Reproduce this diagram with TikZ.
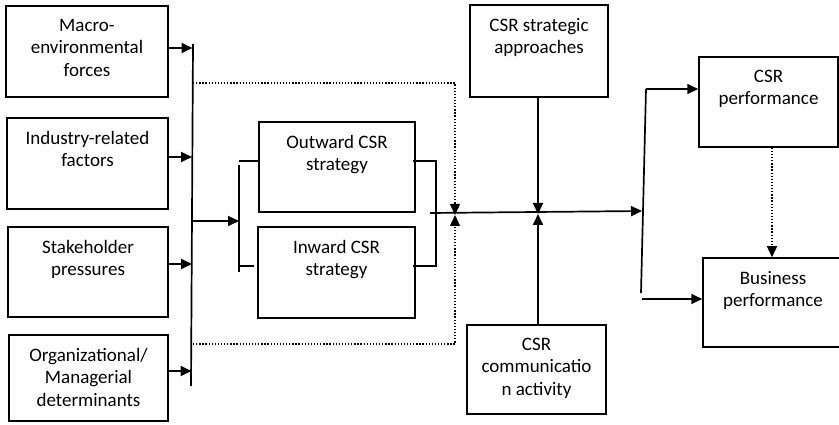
\documentclass[tikz,border=0pt]{standalone}
\usepackage{fontspec}
\setmainfont{Carlito}
\usetikzlibrary{arrows.meta,positioning,calc}

\begin{document}
\begin{tikzpicture}[x=1pt,y=-1pt,>={Triangle[length=11pt,width=10pt]},line width=1.7pt,
  box/.style={draw,line width=1.5pt,inner sep=0pt},
  txt/.style={anchor=north,yshift=-13pt,align=center,inner sep=0pt,font=\fontsize{19}{22.5}\selectfont},
  dots/.style={line width=1.3pt,dash pattern=on 1.3pt off 1.8pt}]
  \useasboundingbox (0,0) rectangle (839,425);
  % determinants
  \node[box,minimum width=162pt,minimum height=91pt,label={[txt]north:Macro-\\environmental\\forces}] (macro) at (87,51.5) {};
  \node[box,minimum width=161pt,minimum height=91pt,label={[txt]north:Industry-related\\factors}] (ind) at (87.5,163.5) {};
  \node[box,minimum width=160pt,minimum height=90pt,label={[txt]north:Stakeholder\\pressures}] (stake) at (88,272) {};
  \node[box,minimum width=159pt,minimum height=86pt,label={[txt]north:Organizational/\\Managerial\\determinants}] (org) at (88.5,378) {};
  % strategies
  \node[box,minimum width=156pt,minimum height=90pt,label={[txt]north:Outward CSR\\strategy}] (outw) at (337,167) {};
  \node[box,minimum width=157pt,minimum height=91pt,label={[txt]north:Inward CSR\\strategy}] (inw) at (336.5,272.5) {};
  % moderators
  \node[box,minimum width=138pt,minimum height=92pt,label={[txt]north:CSR strategic\\approaches}] (strat) at (539,51) {};
  \node[box,minimum width=139pt,minimum height=89pt,label={[txt]north:CSR\\communicatio\\n activity}] (comm) at (536.5,369.5) {};
  % outcomes
  \node[box,minimum width=139pt,minimum height=90pt,label={[txt]north:CSR\\performance}] (perf) at (768.5,102) {};
  \node[box,minimum width=140pt,minimum height=89pt,label={[txt]north:Business\\performance}] (bus) at (773,302.5) {};

  % left collector bar
  \coordinate (bartop) at (193,44);
  \coordinate (barbot) at (191,386);
  \coordinate (j1) at (192.5,48);
  \coordinate (j2) at (192,157);
  \coordinate (j3) at (192,264);
  \coordinate (j4) at (191.5,371);
  \draw (bartop) -- (barbot);
  \draw[->] (macro.east |- j1) -- (j1);
  \draw[->] (ind.east |- j2) -- (j2);
  \draw[->] (stake.east |- j3) -- (j3);
  \draw[->] (org.east |- j4) -- (j4);

  % bracket round the strategies
  \coordinate (jo) at (192,221);
  \coordinate (lb) at (239,221);
  \coordinate (lbt) at (239,161);
  \coordinate (lbb) at (239,266);
  \coordinate (rbt) at (436,161);
  \coordinate (rbb) at (436,266);
  \draw[->] (jo) -- (lb);
  \draw (lbt |- 0,165) -- (lbb |- 0,272);
  \draw (lbt) -- (outw.west |- lbt);
  \draw (lbb) -- ([xshift=-3pt]inw.west |- lbb);
  \draw ([xshift=-3pt]outw.east |- rbt) -- (rbt) -- (rbb) -- ([xshift=-3pt]inw.east |- rbb);

  % main path to outcomes
  \coordinate (mstart) at (430,213);
  \coordinate (rmid) at (642,211);
  \coordinate (x1) at (455,215);
  \coordinate (x2) at (538,214);
  \draw[->] (mstart) -- (rmid);

  % dotted frame
  \coordinate (dtl) at (193,83);
  \coordinate (dtr) at (455,83);
  \coordinate (dbl) at (193,344);
  \coordinate (dbr) at (455,344);
  \draw[dots,->] (dtl) -- (dtr) -- (x1);
  \draw[dots,->] (dbl) -- (dbr) -- (x1);

  % moderators
  \draw[->] (x2 |- strat.south) -- (x2);
  \draw[->] (x2 |- comm.north) -- (x2);

  % outcome split
  \coordinate (rt) at (646,89);
  \coordinate (rb) at (642,299);
  \draw (rt) -- (641,293);
  \draw[->] (rt) -- (rt -| perf.west);
  \draw[->] (rb) -- (rb -| bus.west);
  \draw[dots,->] (perf.south -| 772,0) -- (bus.north -| 772,0);
\end{tikzpicture}
\end{document}
